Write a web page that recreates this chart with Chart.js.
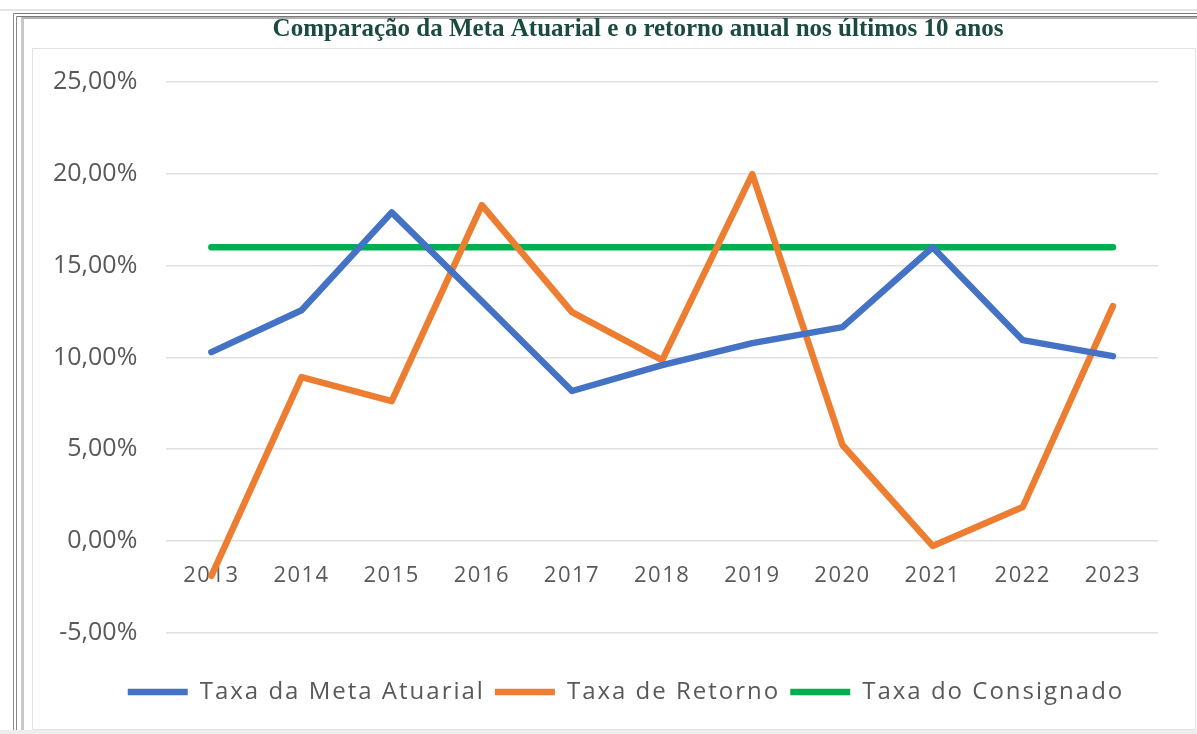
<!DOCTYPE html>
<html>
<head>
<meta charset="utf-8">
<script src="https://cdn.jsdelivr.net/npm/chart.js@4.4.1/dist/chart.umd.min.js"></script>
<style>
  html,body{margin:0;padding:0;background:#fff;}
  #wrap{position:relative;width:1197px;height:734px;overflow:hidden;background:#fff;}
  #topline{position:absolute;left:0;top:9px;width:1197px;height:2px;background:#e4e4e4;}
  #outer{position:absolute;left:13px;top:13px;width:1190px;height:730px;
         border-left:4px double #8a8a8a;border-top:4px double #7a7a7a;}
  #outer2{position:absolute;left:21px;top:17px;width:1180px;height:730px;border-left:3px solid #c8c8c8;border-top:2px solid #b0b0b0;}
  #inner{position:absolute;left:32px;top:48px;width:1162px;height:680px;border:1px solid #e2e2e2;}
  #bottomline{position:absolute;left:0;top:730px;width:1197px;height:4px;background:#eeeeee;}
  canvas{position:absolute;left:0;top:0;}
</style>
</head>
<body>
<div id="wrap">
  <div id="topline"></div>
  <div id="outer"></div>
  <div id="outer2"></div>
  <div id="inner"></div>
  <div id="bottomline"></div>
  <canvas id="c" width="1197" height="734"></canvas>
</div>
<script>
const years = ['2013','2014','2015','2016','2017','2018','2019','2020','2021','2022','2023'];
const metaAtuarial = [10.29, 12.57, 17.90, 13.06, 8.17, 9.58, 10.78, 11.65, 16.00, 10.94, 10.07];
const taxaRetorno = [-1.90, 8.93, 7.62, 18.29, 12.47, 9.85, 19.98, 5.23, -0.27, 1.85, 12.79];
const taxaConsignado = [16, 16, 16, 16, 16, 16, 16, 16, 16, 16, 16];
const seriesNames = ['Taxa da Meta Atuarial', 'Taxa de Retorno', 'Taxa do Consignado'];
const seriesColors = ['#4472C4', '#ED7D31', '#00B050'];
const titleText = 'Comparação da Meta Atuarial e o retorno anual nos últimos 10 anos';

const fmt = v => v.toFixed(2).replace('.', ',') + '%';

function ds(label, data, color){
  return {label, data, borderColor: color, backgroundColor: color, borderWidth: 6.5,
    pointRadius: 0, pointHoverRadius: 0, tension: 0, borderCapStyle: 'round', borderJoinStyle: 'round', fill: false};
}

function wrapBox(box, dx, ls){
  if(!box || box._wrapped) return;
  const upd = box.update, draw = box.draw;
  if(typeof upd !== 'function' || typeof draw !== 'function') return;
  box._wrapped = true;
  box.update = function(...a){ const c = this.ctx; if(c) c.letterSpacing = ls; const r = upd.apply(this, a); if(c) c.letterSpacing = '0px'; return r; };
  box.draw = function(...a){ const c = this.ctx; c.save(); c.translate(dx, 0); c.letterSpacing = ls; const r = draw.apply(this, a); c.restore(); return r; };
}
const shiftPlugin = {
  id: 'shift',
  beforeLayout(chart){
    wrapBox(chart.legend, 35, '2px');
    wrapBox(chart.titleBlock, 47, '0px');
    wrapBox(chart.scales.x, 0, '1.5px');
  }
};

new Chart(document.getElementById('c'), {
  type: 'line',
  data: {
    labels: years,
    datasets: [
      ds(seriesNames[0], metaAtuarial, seriesColors[0]),
      ds(seriesNames[1], taxaRetorno, seriesColors[1]),
      ds(seriesNames[2], taxaConsignado, seriesColors[2])
    ]
  },
  plugins: [shiftPlugin],
  options: {
    responsive: false,
    animation: false,
    devicePixelRatio: 1,
    layout: {padding: {left: 24, right: 39, top: 6, bottom: 20}},
    plugins: {
      title: {display: true, text: titleText, color: '#1b4b40',
        font: {family: '"Liberation Serif", "Times New Roman", serif', size: 25, weight: 'bold'},
        padding: {top: 9, bottom: 37}},
      legend: {position: 'bottom',
        title: {display: true, text: '', font: {size: 11}, padding: 12},
        labels: {usePointStyle: true, pointStyle: 'line', pointStyleWidth: 60, boxHeight: 6,
          color: '#595959', padding: 10,
          font: {family: '"Open Sans", sans-serif', size: 24}},
      },
      tooltip: {enabled: false}
    },
    scales: {
      x: {position: {y: 0}, offset: true,
        grid: {display: false, drawTicks: false},
        border: {display: false},
        ticks: {color: '#595959', padding: 22, font: {family: '"Open Sans", sans-serif', size: 22}}},
      y: {min: -5, max: 25,
        ticks: {stepSize: 5, color: '#595959', padding: 29, callback: v => fmt(v),
          font: {family: '"Open Sans", sans-serif', size: 25}},
        grid: {color: '#e0e0e0', lineWidth: 1.5, drawTicks: false},
        border: {display: false}}
    }
  }
});
</script>
</body>
</html>
